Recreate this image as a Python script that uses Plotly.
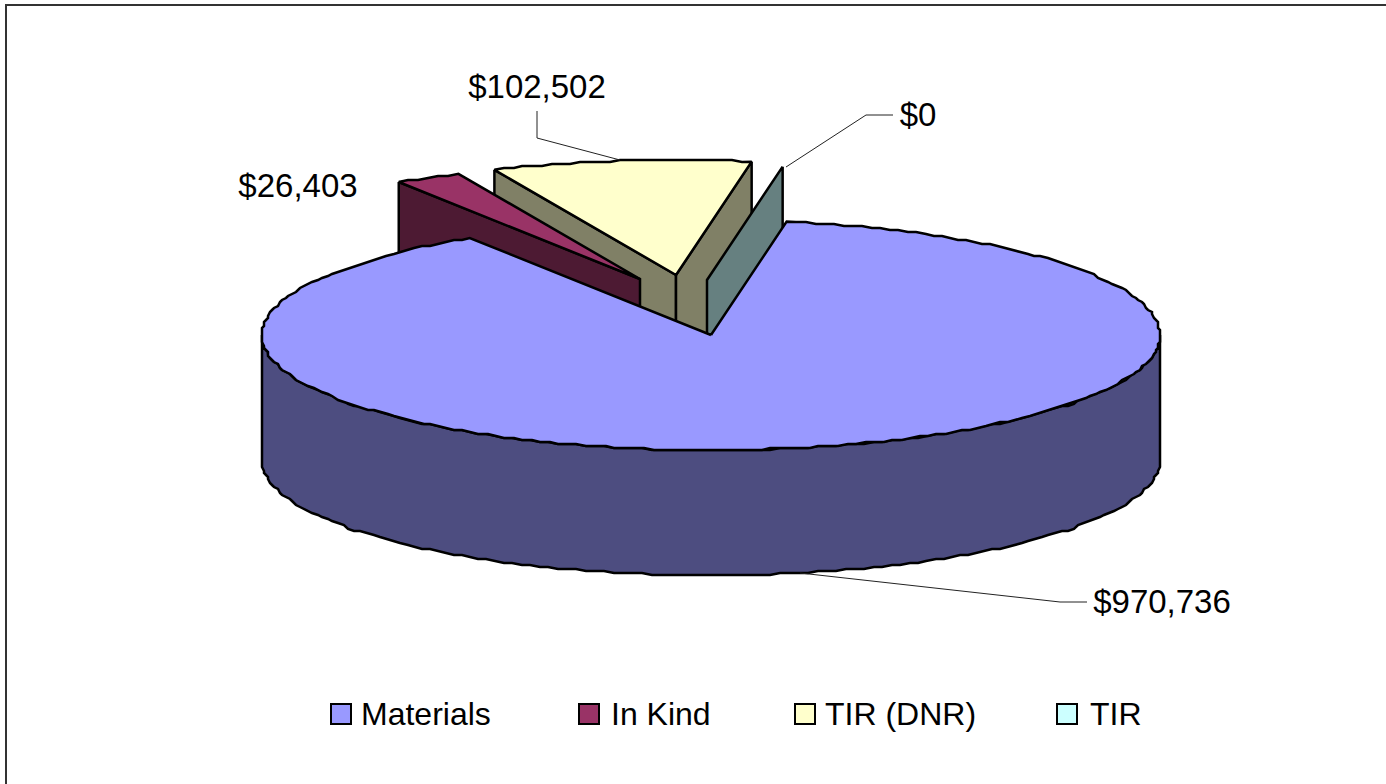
import numpy as np
import plotly.graph_objects as go

# ---- data ----
categories = ["Materials", "In Kind", "TIR (DNR)", "TIR"]
values = [970736, 26403, 102502, 0]
top_colors = ["#9999FF", "#993366", "#FFFFCC", "#CCFFFF"]
wall_colors = ["#4D4D80", "#4D1A33", "#808066", "#668080"]

# ---- layout of the 3-D pie (pixels on a 1386x784 canvas) ----
W, H = 1386, 784
CX, CY = 711, 335
RX, RY = 449, 115
DEPTH = 125
START_DEG = 9.7           # clockwise from 12 o'clock, where Materials starts
APEX = {"Materials": (CX, CY), "In Kind": (640, 279),
        "TIR (DNR)": (676, 275), "TIR": (707, 280)}
EDGE = 2.5
GRID = 2.0                # the source outline is slightly stepped
STEP = 1.25

total = sum(values)
spans = {}
a = START_DEG
for c, v in zip(categories, values):
    spans[c] = (a, a + 360.0 * v / total)
    a = spans[c][1]


def stepped(v):
    out = np.round(np.asarray(v, dtype=float) / GRID) * GRID
    out[0], out[-1] = v[0], v[-1]
    return out


def rim(cat):
    a0, a1 = spans[cat]
    n = max(2, int(abs(a1 - a0) / STEP) + 1)
    th = np.radians(np.linspace(a0, a1, n))
    ax, ay = APEX[cat]
    return stepped(ax + RX * np.sin(th)), stepped(ay - RY * np.cos(th))


fig = go.Figure()


def poly(xs, ys, color, name):
    fig.add_trace(go.Scatter(x=list(xs), y=list(ys), mode="lines", fill="toself",
                             fillcolor=color, name=name, showlegend=False,
                             hoverinfo="skip",
                             line=dict(color="#000000", width=EDGE)))


def wall(cat, end):
    col = wall_colors[categories.index(cat)]
    ax, ay = APEX[cat]
    rx, ry = rim(cat)
    poly([rx[end], ax, ax, rx[end], rx[end]],
         [ry[end], ay, ay + DEPTH, ry[end] + DEPTH, ry[end]], col, cat)


def top(cat):
    ax, ay = APEX[cat]
    rx, ry = rim(cat)
    poly([ax, *rx, ax], [ay, *ry, ay], top_colors[categories.index(cat)], cat)


# painter's order, back to front
wall("TIR (DNR)", 0)
wall("TIR (DNR)", -1)
top("TIR (DNR)")
wall("TIR", 0)
wall("In Kind", 0)
top("In Kind")

# outer side of Materials: only the rim part facing the viewer
th = np.radians(np.arange(90.0, 270.01, STEP))
sx, sy = stepped(CX + RX * np.sin(th)), stepped(CY - RY * np.cos(th))
poly([*sx, *sx[::-1], sx[0]], [*sy, *(sy[::-1] + DEPTH), sy[0]], wall_colors[0], "Materials")
top("Materials")

# leader lines
LEADERS = [[(537, 111), (537, 138), (620, 160)],
           [(893, 115), (866, 115), (786, 167)],
           [(800, 573), (1060, 602), (1087, 602)]]
for pts in LEADERS:
    fig.add_trace(go.Scatter(x=[p[0] for p in pts], y=[p[1] for p in pts], mode="lines",
                             showlegend=False, hoverinfo="skip",
                             line=dict(color="#222222", width=1)))

# data labels
LABEL_POS = {"Materials": (1162, 605), "In Kind": (298, 189),
             "TIR (DNR)": (537, 90), "TIR": (918, 118)}
for c, v in zip(categories, values):
    fig.add_trace(go.Scatter(x=[LABEL_POS[c][0]], y=[LABEL_POS[c][1]], mode="text",
                             text=[f"${v:,}"], textposition="middle center", showlegend=False,
                             hoverinfo="skip",
                             textfont=dict(family="Liberation Sans", size=33, color="#000000")))

# legend row
LEGEND_X = [341, 589, 805, 1067]
LEGEND_TEXT_X = [361, 611, 825, 1090]
LEGEND_Y = 714
for c, lx, tx, col in zip(categories, LEGEND_X, LEGEND_TEXT_X, top_colors):
    fig.add_trace(go.Scatter(x=[lx], y=[LEGEND_Y], mode="markers", name=c, showlegend=False,
                             hoverinfo="name",
                             marker=dict(symbol="square", size=20, color=col,
                                         line=dict(color="#000000", width=2))))
    fig.add_trace(go.Scatter(x=[tx], y=[LEGEND_Y + 3], mode="text", name=c, showlegend=False,
                             text=[c], textposition="middle right", hoverinfo="skip",
                             cliponaxis=False,
                             textfont=dict(family="Liberation Sans", size=32, color="#000000")))

# chart-area frame: only its top and left edges fall inside the picture
fig.add_shape(type="rect", x0=6, y0=5, x1=W + 20, y1=H + 20, line=dict(color="#333333", width=2),
              fillcolor="rgba(0,0,0,0)", layer="below")

fig.update_layout(width=W, height=H, margin=dict(l=0, r=0, t=0, b=0),
                  paper_bgcolor="#FFFFFF", plot_bgcolor="#FFFFFF", showlegend=False,
                  xaxis=dict(range=[0, W], visible=False, fixedrange=True),
                  yaxis=dict(range=[H, 0], visible=False, fixedrange=True))

fig.write_html("out.html", post_script="document.body.style.margin='0';document.body.style.overflow='hidden';",
               config={"displayModeBar": False})
